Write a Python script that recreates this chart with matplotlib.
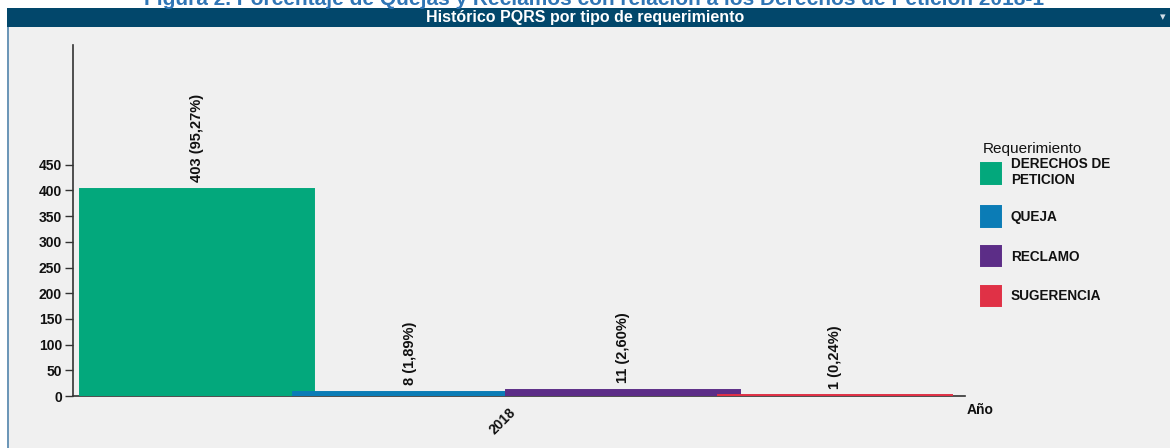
import matplotlib
matplotlib.use("Agg")
import matplotlib.pyplot as plt
from matplotlib.patches import Rectangle

plt.rcParams['font.family'] = ['Liberation Sans', 'DejaVu Sans']

# datos
tipos = ["DERECHOS DE\nPETICION", "QUEJA", "RECLAMO", "SUGERENCIA"]
valores = [403, 8, 11, 1]
porcentajes = ["95,27%", "1,89%", "2,60%", "0,24%"]
colores = ["#03a87c", "#0b7cb6", "#5c2d87", "#e03146"]
anio = ["2018"]
yticks = [0, 50, 100, 150, 200, 250, 300, 350, 400, 450]

W, H = 1170, 448
fig = plt.figure(figsize=(W / 100, H / 100), dpi=100, facecolor="white")

# fondo gris, borde y barra de titulo
fig.patches.append(Rectangle((8 / W, 0), 1 - 8 / W, 1 - 27 / H, transform=fig.transFigure,
                             facecolor="#f0f0f0", edgecolor="none", zorder=-5))
fig.patches.append(Rectangle((7 / W, 0), 1.5 / W, 1 - 8 / H, transform=fig.transFigure,
                             facecolor="#6d97b8", edgecolor="none", zorder=-4))
fig.patches.append(Rectangle((7 / W, 1 - 27 / H), 1 - 7 / W, 19 / H, transform=fig.transFigure,
                             facecolor="#02476b", edgecolor="none", zorder=-4))
fig.text(585 / W, 1 - 17.5 / H, "Histórico PQRS por tipo de requerimiento", color="white",
         fontsize=11.5, fontweight="bold", ha="center", va="center")
fig.text(1163 / W, 1 - 17 / H, "▾", color="#d0dde8", fontsize=8, ha="center", va="center",
         family="DejaVu Sans")
fig.text(594 / W, 1 - 5 / H,
         "Figura 2. Porcentaje de Quejas y Reclamos con relación a los Derechos de Petición 2018-1",
         color="#2f75b5", fontsize=15, fontweight="bold", ha="center", va="baseline")

ax = fig.add_axes([73 / W, 1 - 396 / H, (965 - 73) / W, (396 - 45) / H])
ax.set_facecolor("none")

pos = [0, 1, 2, 3]
barras = []
for i in range(len(valores)):
    b = ax.bar(pos[i], valores[i], width=1.1, color=colores[i], edgecolor=colores[i],
               linewidth=1.4, label=tipos[i], zorder=2 + i)
    barras.append(b[0])
    ax.annotate(f"{valores[i]} ({porcentajes[i]})", (pos[i], valores[i]),
                xytext=(0, 5), textcoords="offset points", rotation=90,
                ha="center", va="bottom", fontsize=10.5, fontweight="bold", color="#111111")

ax.set_xlim(-0.583, 3.609)
ax.set_ylim(0, 683)
ax.set_yticks(yticks)
ax.set_yticklabels([str(t) for t in yticks], fontsize=10, fontweight="bold", color="#111111")
ax.set_xticks([1.465])
ax.set_xticklabels(anio, rotation=45, ha="right", rotation_mode="anchor",
                   fontsize=10, fontweight="bold", color="#111111")
ax.tick_params(axis="y", length=6, width=1, color="#333333", pad=2)
ax.tick_params(axis="x", length=0, pad=7)
for s in ["top", "right"]:
    ax.spines[s].set_visible(False)
for s in ["left", "bottom"]:
    ax.spines[s].set_color("#333333")
    ax.spines[s].set_linewidth(1.2)
ax.spines["left"].set_zorder(10)
ax.spines["bottom"].set_zorder(1)

fig.text(967 / W, 1 - 410 / H, "Año", fontsize=10, fontweight="bold", color="#111111",
         ha="left", va="center")

# leyenda (titulo aparte para controlar la separacion)
fig.text(983 / W, 1 - 149 / H, "Requerimiento", fontsize=11, color="#111111",
         ha="left", va="center")
leg = ax.legend(handles=barras, labels=tipos,
                loc="upper left", bbox_to_anchor=(981 / W, 1 - 157 / H),
                bbox_transform=fig.transFigure, frameon=False, borderpad=0,
                borderaxespad=0, handlelength=1.5, handleheight=1.95, labelspacing=1.4,
                handletextpad=0.7, alignment="left",
                prop={"size": 9.8, "weight": "bold"})
for t in leg.get_texts():
    t.set_color("#111111")

fig.savefig("out.png", dpi=100, facecolor=fig.get_facecolor())
